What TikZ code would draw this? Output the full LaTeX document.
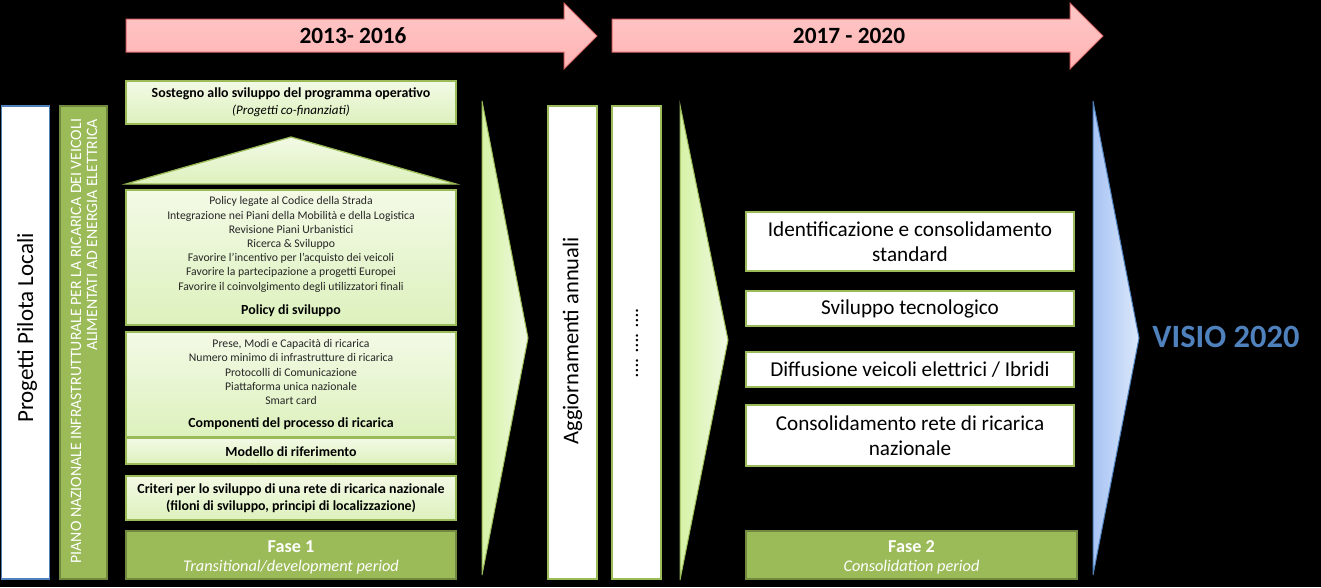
\documentclass[tikz,border=0pt]{standalone}
\usepackage{fontspec}
\setmainfont{Carlito}
\definecolor{gb}{HTML}{9BBB59}
\definecolor{gbd}{HTML}{71893F}
\definecolor{lgt}{HTML}{F3FAE6}
\definecolor{lgb}{HTML}{DDF1BD}
\definecolor{pk}{HTML}{FFC8C8}
\definecolor{pkb}{HTML}{FFB3B3}
\definecolor{pkd}{HTML}{D9676A}
\definecolor{bl}{HTML}{4F81BD}
\definecolor{blL}{HTML}{A7C4F4}
\definecolor{blR}{HTML}{DCE8FB}
\definecolor{chL}{HTML}{D6F2A6}
\definecolor{chR}{HTML}{F0FAE2}
\newcommand{\fsz}[2]{\fontsize{#1}{#2}\selectfont}
\begin{document}
\begin{tikzpicture}[x=1pt,y=-1pt,
  every node/.style={inner sep=0pt, outer sep=0pt},
  lgbox/.style={draw=gb, line width=1.3pt, top color=lgt, bottom color=lgb},
  whbox/.style={draw=gb, line width=1.8pt, fill=white},
  fasebox/.style={draw=gbd, line width=1.2pt, fill=gb},
  chev/.style={draw=gb, line width=1pt, left color=chL, right color=chR},
  bluechev/.style={draw=bl, line width=1pt, left color=blL, right color=blR},
  yeararrow/.style={draw=pkd, line width=1pt, top color=pk, bottom color=pkb},
  yeartxt/.style={font=\fsz{23.3}{26}\bfseries, text=black},
  listtxt/.style={font=\fsz{11.7}{14.2}, align=center, text=black!85},
  titletxt/.style={font=\fsz{13.9}{17}\bfseries, align=center, text=black},
  bigtxt/.style={font=\fsz{21.2}{25}, align=center, text=black},
  fasetitle/.style={font=\fsz{18.2}{20}\bfseries, text=white},
  fasesub/.style={font=\fsz{16.3}{17}\itshape, text=white},
]
\fill[black] (0,0) rectangle (1321,587);
\useasboundingbox (0,0) rectangle (1321,587);

% year arrows
\path[yeararrow] (126,19) -- (564,19) -- (564,3) -- (597,36) -- (564,69) -- (564,52) -- (126,52) -- cycle;
\node[yeartxt] (y1) at (353,36) {2013- 2016};
\path[yeararrow] (612,19) -- (1070,19) -- (1070,3) -- (1103,36) -- (1070,69) -- (1070,52) -- (612,52) -- cycle;
\node[yeartxt] (y2) at (849,36) {2017 - 2020};

% left vertical boxes
\node[draw=bl, line width=1.5pt, fill=white, minimum width=48pt, minimum height=473pt] (ppl) at (25.5,342.5) {};
\node[rotate=90, font=\fsz{23}{26}] (pplt) at (27,328) {Progetti Pilota Locali};
\node[fasebox, minimum width=47pt, minimum height=473pt] (piano) at (83.5,342.5) {};
\node[rotate=90, font=\fsz{15.8}{16}, text=white, align=right, anchor=east] (pianot) at (84,119)
  {PIANO NAZIONALE  INFRASTRUTTURALE PER LA RICARICA  DEI VEICOLI\\ALIMENTATI  AD ENERGIA ELETTRICA};

% phase 1 column
\node[lgbox, minimum width=330pt, minimum height=43pt] (sost) at (291,102.5) {};
\node[titletxt] (sost1) at (291,94) {Sostegno allo sviluppo del programma operativo};
\node[font=\fsz{13}{15}\itshape] (sost2) at (291,111) {(Progetti co-finanziati)};

\path[lgbox] (126,184) -- (291,137) -- (456,184) -- cycle;

\node[lgbox, minimum width=330pt, minimum height=135pt] (pol) at (291,257.5) {};
\node[listtxt] (poll) at (291,244.5) {Policy legate al Codice della Strada\\
Integrazione nei Piani della Mobilità e della Logistica\\
Revisione Piani Urbanistici\\
Ricerca \& Sviluppo\\
Favorire l’incentivo per l’acquisto dei veicoli\\
Favorire la partecipazione a progetti Europei\\
Favorire il coinvolgimento degli utilizzatori finali};
\node[titletxt] (polt) at (291,311) {Policy di sviluppo};

\node[lgbox, minimum width=330pt, minimum height=105pt] (comp) at (291,384.5) {};
\node[listtxt] (compl) at (291,372) {Prese, Modi e Capacità di ricarica\\
Numero minimo di infrastrutture di ricarica\\
Protocolli di Comunicazione\\
Piattaforma unica nazionale\\
Smart card};
\node[titletxt] (compt) at (291,424) {Componenti del processo di ricarica};

\node[lgbox, minimum width=330pt, minimum height=26pt] (mod) at (291,451) {};
\node[titletxt] (modt) at (291,451.5) {Modello di riferimento};

\node[lgbox, minimum width=330pt, minimum height=44pt] (crit) at (291,498) {};
\node[titletxt] (critt) at (291,498.5) {Criteri per lo sviluppo di una rete di ricarica nazionale\\(filoni di sviluppo, principi di localizzazione)};

\node[fasebox, minimum width=330pt, minimum height=48pt] (f1) at (291,555) {};
\node[fasetitle] (f1t) at (291,547) {Fase 1};
\node[fasesub] (f1s) at (291,567) {Transitional/development period};

% chevrons and middle columns
\path[chev] (482,101) -- (528,338) -- (482,575) -- cycle;
\node[whbox, minimum width=49pt, minimum height=473pt] (agg) at (572.5,342.5) {};
\node[rotate=90, font=\fsz{22.5}{26}] (aggt) at (572.5,341) {Aggiornamenti annuali};
\node[whbox, minimum width=49pt, minimum height=473pt] (dots) at (636.5,342.5) {};
\node[rotate=90, font=\fsz{20}{22}] (dotst) at (637,343) {…. …. ….};
\path[chev] (680,105) -- (728,340) -- (680,580) -- cycle;

% phase 2 column
\node[whbox, minimum width=328pt, minimum height=59pt] (r1) at (910,241.5) {};
\node[bigtxt] (r1t) at (910,241.5) {Identificazione e consolidamento\\standard};
\node[whbox, minimum width=328pt, minimum height=35pt] (r2) at (910,308.75) {};
\node[bigtxt] (r2t) at (910,309) {Sviluppo tecnologico};
\node[whbox, minimum width=328pt, minimum height=35pt] (r3) at (910,369.5) {};
\node[bigtxt] (r3t) at (910,370) {Diffusione veicoli elettrici / Ibridi};
\node[whbox, minimum width=328pt, minimum height=61pt] (r4) at (910,435.5) {};
\node[bigtxt] (r4t) at (910,435.5) {Consolidamento rete di ricarica\\nazionale};

\node[fasebox, minimum width=331pt, minimum height=48pt] (f2) at (911.5,555) {};
\node[fasetitle] (f2t) at (911.5,547) {Fase 2};
\node[fasesub] (f2s) at (911.5,567) {Consolidation period};

\path[bluechev] (1093,101) -- (1139,338) -- (1093,575) -- cycle;
\node[font=\fsz{32.5}{36}\bfseries, text=bl] (visio) at (1226,337) {VISIO  2020};
\end{tikzpicture}
\end{document}
